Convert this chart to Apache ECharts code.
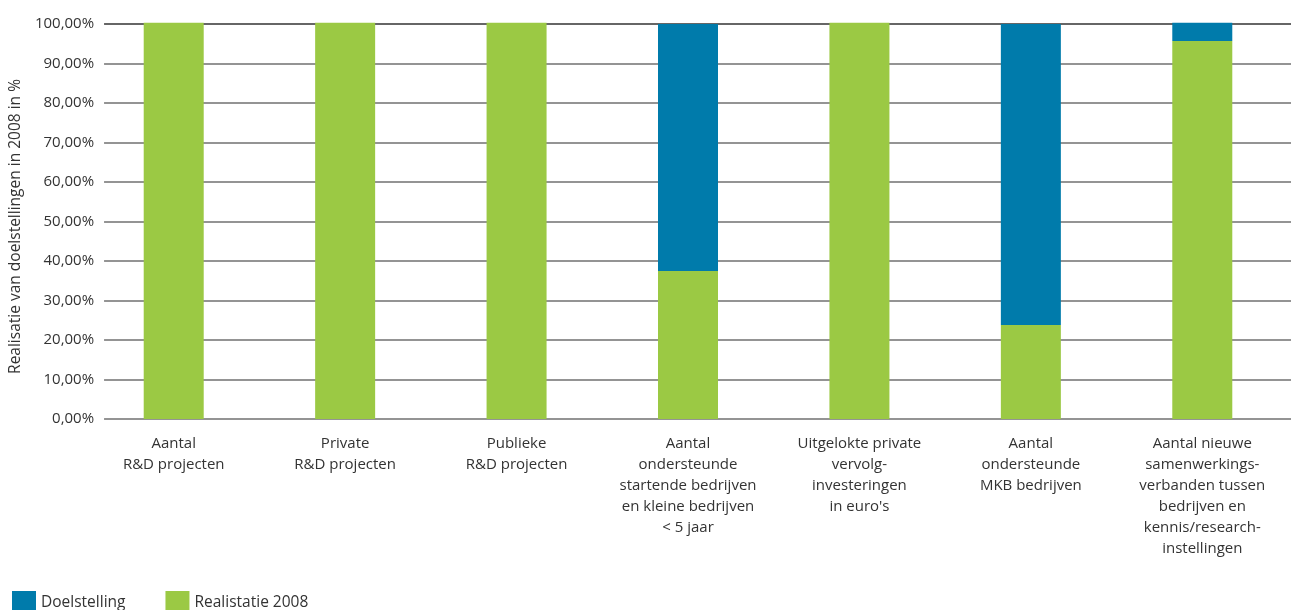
<!DOCTYPE html>
<html><head><meta charset="utf-8">
<script src="https://cdn.jsdelivr.net/npm/echarts@6/dist/echarts.min.js"></script>
<style>html,body{margin:0;padding:0;background:#fff}#c{width:1291px;height:610px}</style>
</head><body><div id="c"></div>
<script>
var categories = [
  "Aantal\nR&D projecten",
  "Private\nR&D projecten",
  "Publieke\nR&D projecten",
  "Aantal\nondersteunde\nstartende bedrijven\nen kleine bedrijven\n< 5 jaar",
  "Uitgelokte private\nvervolg-\ninvesteringen\nin euro's",
  "Aantal\nondersteunde\nMKB bedrijven",
  "Aantal nieuwe\nsamenwerkings-\nverbanden tussen\nbedrijven en\nkennis/research-\ninstellingen"
];
var realisatie2008 = [100.3, 100.3, 100.3, 37.5, 100.3, 23.8, 95.7];
var doelstelling = [0, 0, 0, 62.5, 0, 76.2, 4.6];
var yTicks = [0, 10, 20, 30, 40, 50, 60, 70, 80, 90, 100];

var FONT = '"Open Sans", "Noto Sans", sans-serif';
var chart = echarts.init(document.getElementById('c'));
var gridColors = yTicks.map(function (v) { return v === 100 ? '#333333' : '#707070'; });
chart.setOption({
  animation: false,
  textStyle: { fontFamily: FONT },
  legend: {
    data: ['Doelstelling', 'Realistatie 2008'],
    left: 7, top: 586,
    icon: 'rect', itemWidth: 24, itemHeight: 24, itemGap: 40,
    textStyle: { fontFamily: FONT, fontSize: 15.5, color: '#333', padding: [12, 0, 0, 0] }
  },
  grid: [
    { left: 88, right: 3, top: 24, bottom: 191 },
    { left: 100, right: 0, top: 24, bottom: 191 }
  ],
  xAxis: [
    { type: 'category', gridIndex: 0, data: categories,
      axisLine: { show: false }, axisTick: { show: false },
      axisLabel: { interval: 0, margin: 14, fontFamily: FONT, fontSize: 15, lineHeight: 21, color: '#333', align: 'center', verticalAlign: 'top' } },
    { type: 'value', gridIndex: 1, min: 0, max: 1, show: false }
  ],
  yAxis: [
    { type: 'value', gridIndex: 0, min: 0, max: 100, interval: 10, show: false },
    { type: 'value', gridIndex: 1, min: 0, max: 100, interval: 10,
      axisLine: { show: false }, axisTick: { show: false },
      axisLabel: { margin: 10, fontFamily: FONT, fontSize: 15, color: '#333',
        formatter: function (v) { return v.toFixed(2).replace('.', ',') + '%'; } },
      splitLine: { show: true, lineStyle: { color: gridColors, width: 1.5 } },
      name: 'Realisatie van doelstellingen in 2008 in %', nameLocation: 'middle', nameGap: 78,
      nameTextStyle: { fontFamily: FONT, fontSize: 15.5, color: '#333', padding: [0, 10, 0, 0] } }
  ],
  series: [
    { name: 'Realistatie 2008', type: 'bar', stack: 's', xAxisIndex: 0, yAxisIndex: 0,
      barWidth: 60, clip: false, data: realisatie2008, itemStyle: { color: '#9BC944' } },
    { name: 'Doelstelling', type: 'bar', stack: 's', xAxisIndex: 0, yAxisIndex: 0,
      barWidth: 60, clip: false, data: doelstelling, itemStyle: { color: '#007BAB' } }
  ]
});
</script></body></html>
